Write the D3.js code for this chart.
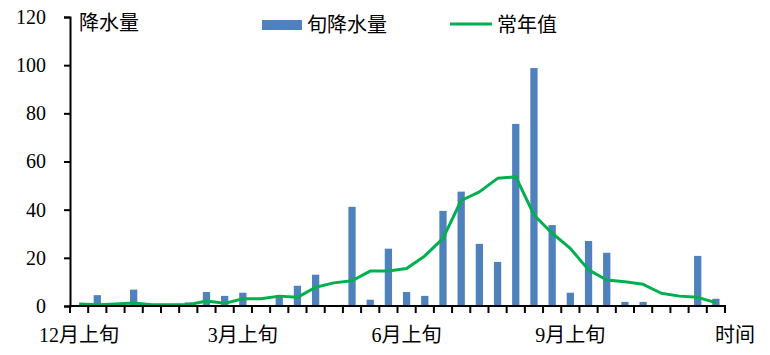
<!DOCTYPE html>
<html>
<head>
<meta charset="utf-8">
<script src="https://cdn.jsdelivr.net/npm/d3@7"></script>
<style>
  html, body { margin: 0; padding: 0; background: #fff; }
</style>
</head>
<body>
<svg id="chart" width="770" height="355"></svg>
<script>
// Dekads from December (上旬) to November (下旬)
const months = [12, 1, 2, 3, 4, 5, 6, 7, 8, 9, 10, 11];
const parts = ["上旬", "中旬", "下旬"];
const categories = [];
months.forEach(m => parts.forEach(p => categories.push(m + "月" + p)));

// 旬降水量 (mm)
const rainfall = [0, 4.5, 0, 6.8, 0, 0, 1.5, 5.8, 4.2, 5.5,
                  0, 4.0, 8.4, 13.0, 0, 41.2, 2.6, 23.8, 5.8, 4.2,
                  39.5, 47.5, 25.8, 18.3, 75.6, 98.8, 33.6, 5.5, 27.0, 22.1,
                  1.7, 1.7, 0, 0, 20.8, 3.0];
// 常年值 (mm)
const normal = [0.8, 0.5, 0.8, 1.2, 0.5, 0.5, 0.5, 2.1, 1.1, 3.0,
                3.0, 4.1, 3.6, 7.8, 9.6, 10.5, 14.5, 14.5, 15.6, 20.8,
                28.1, 43.8, 47.4, 53.0, 53.7, 37.8, 30.2, 23.9, 15.0, 10.8,
                10.1, 9.0, 5.3, 4.1, 3.6, 1.4];

const yTicks = [0, 20, 40, 60, 80, 100, 120];
const xTickLabels = ["12月上旬", "3月上旬", "6月上旬", "9月上旬"];

const SERIF = "'Liberation Serif', 'Times New Roman', 'DejaVu Serif', 'Noto Sans CJK SC', serif";
const CJK = "'Noto Sans CJK SC', sans-serif";

const svg = d3.select("#chart");
const margin = { left: 70, right: 45, top: 17, bottom: 49 };
const W = 770, H = 355;
const x0 = margin.left, x1 = W - margin.right;
const y0 = H - margin.bottom, y1 = margin.top;

const x = d3.scaleBand().domain(categories).range([x0, x1]).paddingInner(0.6).paddingOuter(0.3);
const y = d3.scaleLinear().domain([0, 120]).range([y0, y1]);

// Bars
svg.append("g").selectAll("rect").data(categories).join("rect")
  .attr("x", (d) => x(d))
  .attr("width", x.bandwidth())
  .attr("y", (d, i) => y(rainfall[i]))
  .attr("height", (d, i) => y(0) - y(rainfall[i]))
  .attr("fill", "#4F81BD");

// Normal line
const line = d3.line()
  .x((d, i) => x(categories[i]) + x.bandwidth() / 2)
  .y(d => y(d));
svg.append("path").datum(normal)
  .attr("d", line)
  .attr("fill", "none")
  .attr("stroke", "#00B050")
  .attr("stroke-width", 3)
  .attr("stroke-linejoin", "round");

// Y axis
const yAxis = d3.axisLeft(y).tickValues(yTicks).tickSize(6).tickPadding(18);
const gy = svg.append("g").attr("transform", `translate(${x0},0)`).call(yAxis);
gy.select(".domain").attr("stroke", "#000").attr("stroke-width", 2);
gy.selectAll(".tick line").attr("stroke", "#000").attr("stroke-width", 2);
gy.selectAll(".tick text").style("font-size", "20px").style("font-family", SERIF).style("fill", "#000");

// X axis (labels only at chosen categories)
const xAxis = d3.axisBottom(x).tickValues(xTickLabels).tickSize(0).tickPadding(22);
const gx = svg.append("g").attr("transform", `translate(0,${y0})`).call(xAxis);
gx.select(".domain").remove();
gx.selectAll(".tick text").style("font-size", "20px").style("font-family", SERIF).style("fill", "#000");

// X axis line and boundary ticks
const bounds = d3.range(categories.length + 1).map(i => x0 + i * (x1 - x0) / categories.length);
svg.append("line")
  .attr("x1", x0 - 1).attr("x2", x1 + 1)
  .attr("y1", y0).attr("y2", y0)
  .attr("stroke", "#000").attr("stroke-width", 2);
svg.append("g").selectAll("line").data(bounds).join("line")
  .attr("x1", d => d).attr("x2", d => d)
  .attr("y1", y0).attr("y2", y0 + 7)
  .attr("stroke", "#000").attr("stroke-width", 2);

// Axis titles
svg.append("text").attr("x", 79).attr("y", 30).style("font-size", "20px")
  .style("font-family", CJK).text("降水量");
svg.append("text").attr("x", 715).attr("y", 342).style("font-size", "20px")
  .style("font-family", CJK).text("时间");

// Legend
const lg = svg.append("g");
lg.append("rect").attr("x", 262).attr("y", 20).attr("width", 40).attr("height", 10).attr("fill", "#4F81BD");
lg.append("text").attr("x", 307).attr("y", 32).style("font-size", "20px")
  .style("font-family", CJK).text("旬降水量");
lg.append("line").attr("x1", 450).attr("x2", 492).attr("y1", 24).attr("y2", 24)
  .attr("stroke", "#00B050").attr("stroke-width", 3);
lg.append("text").attr("x", 497).attr("y", 32).style("font-size", "20px")
  .style("font-family", CJK).text("常年值");
</script>
</body>
</html>
